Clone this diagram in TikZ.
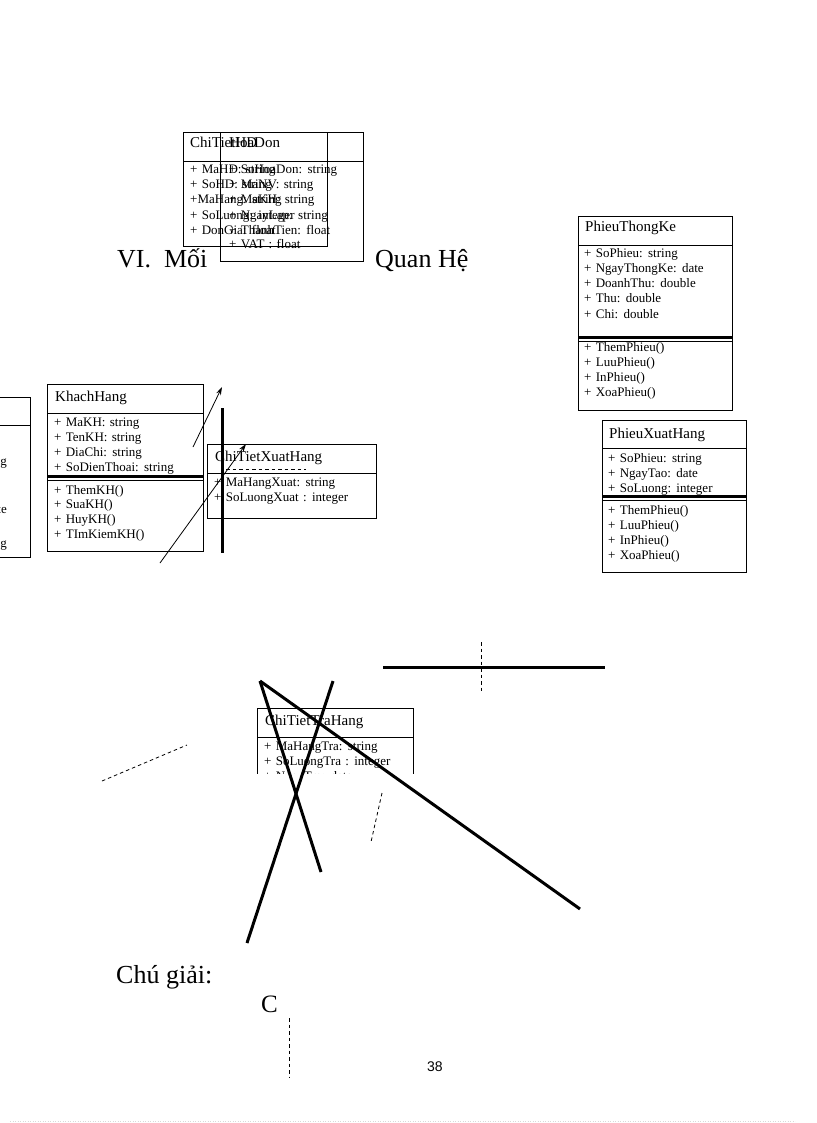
\documentclass[tikz,border=0pt]{standalone}
\usepackage{fontspec}
\setmainfont{Liberation Serif}
\newfontfamily\pagefont{Liberation Sans}
\usetikzlibrary{arrows.meta}
\newcommand\attrfont{\fontsize{13}{15}\selectfont\spaceskip=4.3pt plus 1pt\relax}
\begin{document}
\begin{tikzpicture}[x=1pt,y=-1pt,
  box/.style={draw, line width=0.8pt, anchor=north west, inner sep=0pt, outer sep=0pt},
  txt/.style={anchor=base west, inner sep=0pt, font=\attrfont},
  txte/.style={anchor=base east, inner sep=0pt, font=\attrfont},
  ttl/.style={anchor=base west, inner sep=0pt, font=\fontsize{15}{17}\selectfont},
  big/.style={anchor=base west, inner sep=0pt, font=\fontsize{26}{30}\selectfont},
  thin/.style={line width=0.8pt},
  bar/.style={line width=3pt},
  heavy/.style={line width=3pt},
  dline/.style={line width=0.8pt, dash pattern=on 3.5pt off 3pt},
  arr/.style={line width=0.8pt, -{Stealth[length=8pt,width=5pt]}}]
\useasboundingbox (0,0) rectangle (816,1123);

% ---------- top overlapping boxes ----------
\node[box, minimum width=144pt, minimum height=114pt] (hd1) at (183,132) {};
\node[box, minimum width=143pt, minimum height=129pt] (hd2) at (220,132) {};
\draw[thin] (183,161) -- (363,161);
\node[ttl] (hd1t) at (190,148) {ChiTietHD};
\node[ttl] (hd2t) at (229,148) {HoaDon};
\node[txt] (hd1a) at (190,174) {+ MaHD: string};
\node[txt] (hd1b) at (190,189) {+ SoHD: string};
\node[txt] (hd1c) at (190,204) {+MaHang: string};
\node[txt] (hd1d) at (190,219) {+ SoLuong: integer};
\node[txt] (hd1e) at (190,234) {+ DonGia: float};
\node[txt] (hd2a) at (229,174) {+ SoHoaDon: string};
\node[txt] (hd2b) at (229,189) {+ MaNV: string};
\node[txt] (hd2c) at (229,204) {+ MaKH: string};
\node[txt] (hd2d) at (229,219) {+ NgayLap: string};
\node[txt] (hd2e) at (229,234) {+ ThanhTien: float};
\node[txt] (hd2f) at (229,248) {+ VAT : float};

% ---------- headings ----------
\node[big] (h1) at (117,267) {VI.\ \ Mối};
\node[big] (h2) at (375,267) {Quan Hệ};

% ---------- PhieuThongKe ----------
\node[box, minimum width=154pt, minimum height=194pt] (ptk) at (578,216) {};
\draw[thin] (578,245) -- (732,245);
\draw[bar] (578,337.5) -- (732,337.5);
\draw[thin] (578,341) -- (732,341);
\node[ttl] (ptkt) at (585,232) {PhieuThongKe};
\node[txt] (ptk1) at (584,257) {+ SoPhieu: string};
\node[txt] (ptk2) at (584,272) {+ NgayThongKe: date};
\node[txt] (ptk3) at (584,287) {+ DoanhThu: double};
\node[txt] (ptk4) at (584,302) {+ Thu: double};
\node[txt] (ptk5) at (584,318) {+ Chi: double};
\node[txt] (ptk6) at (584,351) {+ ThemPhieu()};
\node[txt] (ptk7) at (584,366) {+ LuuPhieu()};
\node[txt] (ptk8) at (584,381) {+ InPhieu()};
\node[txt] (ptk9) at (584,396) {+ XoaPhieu()};

% ---------- partial box at the left edge ----------
\draw[thin] (-120,397) rectangle (30,557);
\draw[thin] (-120,425) -- (30,425);
\node[txte] (lb1) at (7,465) {+ MaNCC: string};
\node[txte] (lb2) at (7,513) {+ NgayNhap: date};
\node[txte] (lb3) at (7,547) {+ DiaChi: string};

% ---------- KhachHang ----------
\node[box, minimum width=156pt, minimum height=167pt] (kh) at (47,384) {};
\draw[thin] (47,413) -- (203,413);
\draw[bar] (47,476.5) -- (203,476.5);
\draw[thin] (47,480) -- (203,480);
\node[ttl] (kht) at (55,401) {KhachHang};
\node[txt] (kh1) at (54,426) {+ MaKH: string};
\node[txt] (kh2) at (54,441) {+ TenKH: string};
\node[txt] (kh3) at (54,456) {+ DiaChi: string};
\node[txt] (kh4) at (54,471) {+ SoDienThoai: string};
\node[txt] (kh5) at (54,494) {+ ThemKH()};
\node[txt] (kh6) at (54,508) {+ SuaKH()};
\node[txt] (kh7) at (54,523) {+ HuyKH()};
\node[txt] (kh8) at (54,538) {+ TImKiemKH()};

% ---------- ChiTietXuatHang ----------
\node[box, minimum width=169pt, minimum height=74pt] (ctx) at (207,444) {};
\draw[thin] (207,473) -- (376,473);
\draw[dline] (226,469) -- (306,469);
\node[ttl] (ctxt) at (215,461) {ChiTietXuatHang};
\node[txt] (ctx1) at (214,486) {+ MaHangXuat: string};
\node[txt] (ctx2) at (214,501) {+ SoLuongXuat : integer};

% ---------- PhieuXuatHang ----------
\node[box, minimum width=144pt, minimum height=152pt] (pxh) at (602,420) {};
\draw[thin] (602,448) -- (746,448);
\draw[bar] (602,496.5) -- (746,496.5);
\draw[thin] (602,500) -- (746,500);
\node[ttl] (pxht) at (609,438) {PhieuXuatHang};
\node[txt] (pxh1) at (608,462) {+ SoPhieu: string};
\node[txt] (pxh2) at (608,477) {+ NgayTao: date};
\node[txt] (pxh3) at (608,492) {+ SoLuong: integer};
\node[txt] (pxh4) at (608,514) {+ ThemPhieu()};
\node[txt] (pxh5) at (608,529) {+ LuuPhieu()};
\node[txt] (pxh6) at (608,544) {+ InPhieu()};
\node[txt] (pxh7) at (608,559) {+ XoaPhieu()};

% ---------- arrows and thick vertical ----------
\coordinate (a1s) at (193,447);
\coordinate (a1e) at (222,387);
\coordinate (a2s) at (160,563);
\coordinate (a2e) at (246,444);
\draw[arr] (a1s) -- (a1e);
\draw[arr] (a2s) -- (a2e);
\coordinate (v1) at (222,408);
\coordinate (v2) at (222,553);
\draw[heavy] (v1) -- (v2);

% ---------- ChiTietTraHang (cut off) ----------
\begin{scope}
\clip (250,700) rectangle (420,773);
\draw[thin] (257,780) -- (257,708) -- (413,708) -- (413,780);
\draw[thin] (257,737) -- (413,737);
\node[ttl] (cttt) at (265,725) {ChiTietTraHang};
\node[txt] (ctt1) at (264,750) {+ MaHangTra: string};
\node[txt] (ctt2) at (264,765) {+ SoLuongTra : integer};
\node[txt] (ctt3) at (264,780) {+ NgayTra: date};
\end{scope}

% ---------- loose lines ----------
\coordinate (hl1) at (383,667);
\coordinate (hl2) at (605,667);
\draw[heavy] (hl1) -- (hl2);
\coordinate (dv1) at (481,642);
\coordinate (dv2) at (481,692);
\draw[dline] (dv1) -- (dv2);

\coordinate (p0) at (260,681);
\coordinate (p1) at (321,872);
\coordinate (p2) at (580,909);
\coordinate (q0) at (333,681);
\coordinate (q1) at (247,943);
\draw[heavy] (p0) -- (p1);
\draw[heavy] (p0) -- (p2);
\draw[heavy] (q0) -- (q1);

\coordinate (d1a) at (102,781);
\coordinate (d1b) at (187,745);
\draw[dline] (d1a) -- (d1b);
\coordinate (d2a) at (382,793);
\coordinate (d2b) at (371,842);
\draw[dline] (d2a) -- (d2b);

% ---------- legend ----------
\node[big] (cg) at (116,983) {Chú giải:};
\node[big, font=\fontsize{25}{30}\selectfont] (cc) at (261,1012) {C};
\coordinate (d3a) at (289,1018);
\coordinate (d3b) at (289,1078);
\draw[dline] (d3a) -- (d3b);
\node[anchor=base west, inner sep=0pt, font=\pagefont\fontsize{14}{16}\selectfont] (pg) at (427,1071) {38};

\coordinate (bl1) at (10,1121);
\coordinate (bl2) at (795,1121);
\draw[black!15, line width=0.5pt, dotted] (bl1) -- (bl2);
\end{tikzpicture}
\end{document}
